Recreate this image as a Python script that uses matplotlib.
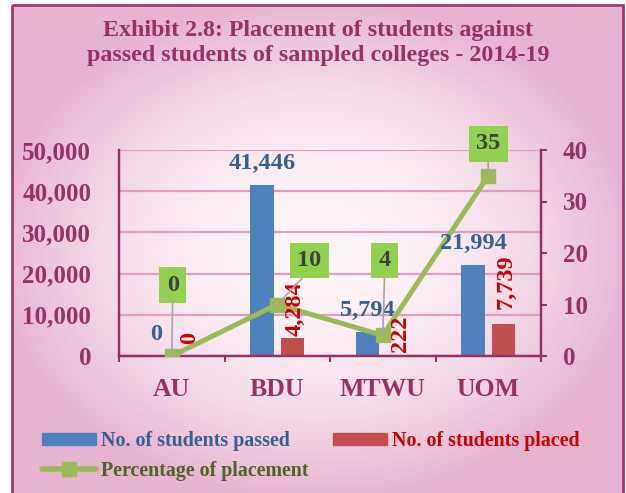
import matplotlib
matplotlib.use('Agg')
import matplotlib.pyplot as plt
import numpy as np
from matplotlib.patches import Rectangle, Patch
from matplotlib.lines import Line2D
from matplotlib.colors import to_rgb
from matplotlib.ticker import FuncFormatter

# ---------------- data ----------------
categories = ['AU', 'BDU', 'MTWU', 'UOM']
passed = [0, 41446, 5794, 21994]
placed = [0, 4284, 222, 7739]
pct = [0, 10, 4, 35]
left_ticks = [0, 10000, 20000, 30000, 40000, 50000]
right_ticks = [0, 10, 20, 30, 40]
title = 'Exhibit 2.8: Placement of students against\npassed students of sampled colleges - 2014-19'
legend_labels = ['No. of students passed', 'No. of students placed', 'Percentage of placement']

# ---------------- styles ----------------
plt.rcParams['font.family'] = ['Liberation Serif', 'DejaVu Serif']
plt.rcParams['font.weight'] = 'bold'
PLUM = '#973265'
SPINE = '#9b2d66'
GRID = '#e29cc4'
BLUE = '#4f81bd'
RED = '#c0504d'
GREEN = '#9bbb59'
BOXG = '#92d050'
BLUE_TXT = '#376092'
RED_TXT = '#cc0000'
GREEN_TXT = '#4f6228'

W, H = 626, 493
fig = plt.figure(figsize=(W / 100, H / 100), dpi=100)
fig.patch.set_facecolor('white')

# background panel with radial gradient
bg = fig.add_axes([0, 0, 1, 1])
bg.set_xlim(0, W)
bg.set_ylim(H, 0)
bg.axis('off')
x0, x1, y0, y1 = 12, 623, 5, 500
nx, ny = 320, 260
xx, yy = np.meshgrid(np.linspace(x0, x1, nx), np.linspace(y0, y1, ny))
r = np.sqrt(((xx - 315) / 320) ** 2 + ((yy - 250) / 250) ** 2)
t = np.clip(r, 0, 1) ** 2.0
edge = np.array(to_rgb('#e7b4d0'))
center = np.array(to_rgb('#fdf6f9'))
img = center + (edge - center) * t[..., None]
bg.imshow(img, extent=(x0, x1, y1, y0), aspect='auto', interpolation='bilinear', zorder=0)
bg.add_patch(Rectangle((x0, y0), x1 - x0, y1 - y0, fill=False, ec='#a3376f', lw=2, zorder=1))

fig.text(318 / W, 1 - 20 / H, title, ha='center', va='top', fontsize=17.3,
         color=PLUM, fontweight='bold', linespacing=1.27)

# main axes
ax = fig.add_axes([119 / W, (H - 356) / H, (541 - 119) / W, (356 - 150) / H])
ax.patch.set_alpha(0)
x = np.arange(len(categories))
bw = 0.225
off = 0.145
ax.bar(x - off, passed, bw, color=BLUE, zorder=2)
ax.bar(x + off, placed, bw, color=RED, zorder=2)
ax.set_xlim(-0.5, len(categories) - 0.5)
ax.set_ylim(left_ticks[0], left_ticks[-1])
ax.set_yticks(left_ticks)
ax.yaxis.set_major_formatter(FuncFormatter(lambda v, p: f'{int(v):,}'))
ax.tick_params(axis='y', length=0, pad=20, labelsize=18, labelcolor=PLUM)
ax.set_xticks(np.arange(-0.5, len(categories), 1))
ax.set_xticklabels([])
ax.set_xticks(x, minor=True)
ax.set_xticklabels(categories, minor=True)
ax.tick_params(axis='x', which='major', length=4.5, width=1.5, color=SPINE, direction='out')
ax.tick_params(axis='x', which='minor', length=0, pad=16, labelsize=18.5, labelcolor=PLUM)
ax.yaxis.grid(True, color=GRID, lw=1.6, zorder=0)
ax.set_axisbelow(True)
for s in ['left', 'bottom', 'right']:
    ax.spines[s].set_color(SPINE)
    ax.spines[s].set_linewidth(1.6)
ax.spines['top'].set_visible(False)

ax2 = ax.twinx()
ax2.set_ylim(right_ticks[0], right_ticks[-1])
ax2.set_yticks(right_ticks)
ax2.tick_params(axis='y', length=4.5, width=1.5, color=SPINE, direction='out', pad=11,
                labelsize=18, labelcolor=PLUM)
for s in ['left', 'bottom', 'right']:
    ax2.spines[s].set_color(SPINE)
    ax2.spines[s].set_linewidth(1.6)
ax2.spines['top'].set_visible(False)
ax2.plot(x, pct, color=GREEN, lw=3.6, marker='s', ms=10.5, mfc=GREEN, mec=GREEN, zorder=3)

# bar labels
for xi, v in zip(x, passed):
    ax2.annotate(f'{v:,}', (xi - off, v), xycoords=ax.transData, xytext=(0, 8),
                 textcoords='offset points', ha='center', va='bottom', fontsize=17.5,
                 color=BLUE_TXT, fontweight='bold', zorder=5)
red_gaps = [9, 2, 2.5, 11]
for xi, v, g in zip(x, placed, red_gaps):
    ax2.annotate(f'{v:,}', (xi + off, v), xycoords=ax.transData, xytext=(1.5, g),
                 textcoords='offset points', ha='center', va='bottom', rotation=90,
                 fontsize=17.5, color=RED_TXT, fontweight='bold', zorder=5)

# percentage labels in green boxes with leader lines
box_offsets = [(0.7, 51), (23, 31.7), (1.4, 54), (0, 23)]
for xi, v, o in zip(x, pct, box_offsets):
    ax2.annotate(f'{v}', (xi, v), xycoords=ax2.transData, xytext=o,
                 textcoords='offset points', ha='center', va='center', fontsize=17.5,
                 color='#404040', fontweight='bold', zorder=6,
                 bbox=dict(boxstyle='square,pad=0.3', fc=BOXG, ec='none'),
                 arrowprops=dict(arrowstyle='-', color='#a6a6a6', lw=1.2, shrinkA=0,
                                 shrinkB=0, relpos=(0.5, 0)))

# legend
h_blue = Patch(color=BLUE)
h_red = Patch(color=RED)
h_green = Line2D([], [], color=GREEN, lw=4, marker='s', ms=10, mfc=GREEN, mec=GREEN,
                 solid_capstyle='round')
leg = fig.legend([h_blue, h_green, h_red], [legend_labels[0], legend_labels[2], legend_labels[1]],
                 ncol=2, loc='upper left', bbox_to_anchor=(42 / W, 1 - 431 / H),
                 frameon=False, fontsize=14.4, handlelength=2.7, handleheight=0.6,
                 handletextpad=0.25, columnspacing=1.2, labelspacing=0.5,
                 borderpad=0, borderaxespad=0)
for txt, c in zip(leg.get_texts(), [BLUE_TXT, GREEN_TXT, RED_TXT]):
    txt.set_color(c)
    txt.set_fontweight('bold')

fig.savefig('out.png', dpi=100)
